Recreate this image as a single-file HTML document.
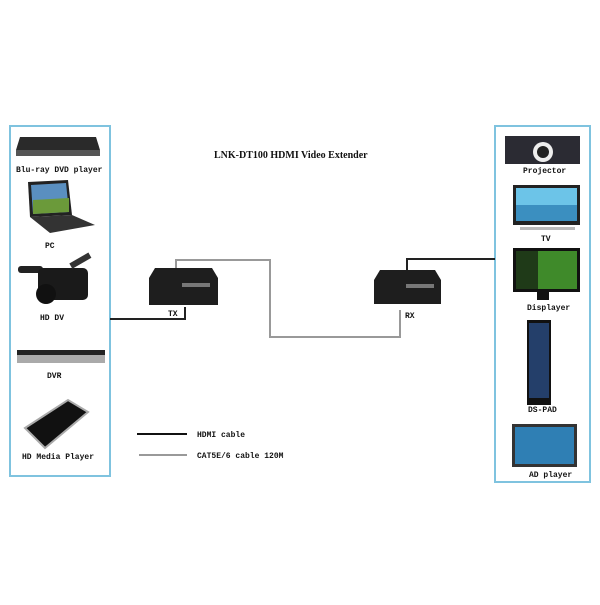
<!DOCTYPE html>
<html><head><style>
body{margin:0;background:#fff;}
svg text{font-family:"Liberation Mono",monospace;font-weight:bold;font-size:8px;fill:#111;}
</style></head><body>
<svg width="600" height="600" viewBox="0 0 600 600" xmlns="http://www.w3.org/2000/svg">
<rect x="0" y="0" width="600" height="600" fill="#fff"/>
<rect x="10" y="126" width="100" height="350" fill="none" stroke="#7fc3df" stroke-width="2"/>
<rect x="495" y="126" width="95" height="356" fill="none" stroke="#7fc3df" stroke-width="2"/>
<text x="214" y="158" style="font-family:'Liberation Serif',serif;font-size:10px">LNK-DT100 HDMI Video Extender</text>
<polyline points="110,319 185,319 185,307" fill="none" stroke="#222" stroke-width="2"/>
<polyline points="176,268 176,260 270,260 270,337 400,337 400,310" fill="none" stroke="#999" stroke-width="2"/>
<polyline points="407,270 407,259 495,259" fill="none" stroke="#222" stroke-width="2"/>
<polygon points="155,268 212,268 218,278 218,305 149,305 149,278" fill="#1e1e1e"/>
<rect x="182" y="283" width="28" height="4" fill="#777"/>
<text x="168" y="316">TX</text>
<polygon points="380,270 435,270 441,280 441,304 374,304 374,280" fill="#1e1e1e"/>
<rect x="406" y="284" width="28" height="4" fill="#777"/>
<text x="405" y="318">RX</text>
<line x1="137" y1="434" x2="187" y2="434" stroke="#111" stroke-width="2"/>
<line x1="139" y1="455" x2="187" y2="455" stroke="#999" stroke-width="2"/>
<text x="197" y="437">HDMI cable</text>
<text x="197" y="458">CAT5E/6 cable 120M</text>
<polygon points="20,137 96,137 100,150 16,150" fill="#2a2a2a"/>
<rect x="16" y="150" width="84" height="6" fill="#555"/>
<text x="16" y="172">Blu-ray DVD player</text>
<polygon points="28,182 68,180 72,215 30,217" fill="#222"/>
<polygon points="31,185 66,183 69,212 33,214" fill="#5a8fc0"/>
<polygon points="33,200 69,198 69,212 33,214" fill="#6b9a3a"/>
<polygon points="30,217 72,215 95,225 50,233" fill="#333"/>
<text x="45" y="248">PC</text>
<rect x="18" y="266" width="25" height="7" rx="3" fill="#222"/>
<rect x="38" y="268" width="50" height="32" rx="5" fill="#1a1a1a"/>
<circle cx="46" cy="294" r="10" fill="#111"/>
<rect x="70" y="258" width="22" height="6" fill="#333" transform="rotate(-30 80 262)"/>
<text x="40" y="320">HD DV</text>
<rect x="17" y="350" width="88" height="5" fill="#222"/>
<rect x="17" y="355" width="88" height="8" fill="#aaa"/>
<text x="47" y="378">DVR</text>
<polygon points="25,428 68,400 88,412 45,448" fill="#111" stroke="#aaa" stroke-width="2"/>
<text x="22" y="459">HD Media Player</text>
<rect x="505" y="136" width="75" height="28" fill="#2b2b33"/>
<circle cx="543" cy="152" r="10" fill="#eee"/>
<circle cx="543" cy="152" r="6" fill="#222"/>
<text x="523" y="173">Projector</text>
<rect x="513" y="185" width="67" height="40" fill="#222"/>
<rect x="516" y="188" width="61" height="33" fill="#6cc4e8"/>
<rect x="516" y="205" width="61" height="16" fill="#3b8fc0"/>
<rect x="520" y="227" width="55" height="3" fill="#bbb"/>
<text x="541" y="241">TV</text>
<rect x="513" y="248" width="67" height="44" fill="#111"/>
<rect x="516" y="251" width="61" height="38" fill="#3f8a2a"/>
<rect x="516" y="251" width="22" height="38" fill="#1f3a18"/>
<rect x="537" y="292" width="12" height="8" fill="#111"/>
<text x="527" y="310">Displayer</text>
<rect x="527" y="320" width="24" height="85" fill="#111"/>
<rect x="529" y="323" width="20" height="75" fill="#243f6a"/>
<text x="528" y="412">DS-PAD</text>
<rect x="512" y="424" width="65" height="43" fill="#333"/>
<rect x="515" y="427" width="59" height="37" fill="#2f7fb4"/>
<text x="529" y="477">AD player</text>
</svg>
</body></html>
